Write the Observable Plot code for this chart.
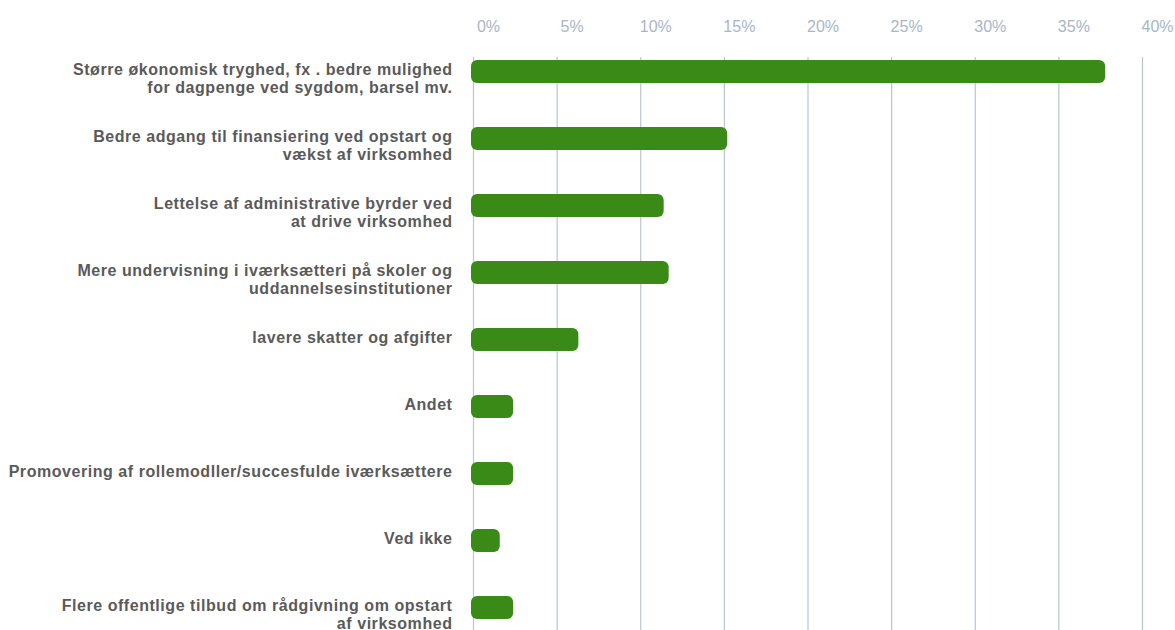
<!DOCTYPE html>
<html>
<head>
<meta charset="utf-8">
<script src="https://cdn.jsdelivr.net/npm/d3@7"></script>
<script src="https://cdn.jsdelivr.net/npm/@observablehq/plot@0.6"></script>
<style>
  html, body { margin: 0; padding: 0; background: #fff; }
  #chart svg { display: block; }
  #chart svg g[aria-label="text"] text { letter-spacing: 0.55px; }
</style>
</head>
<body>
<div id="chart"></div>
<script>
const categories = [
  "Større økonomisk tryghed, fx . bedre mulighed\nfor dagpenge ved sygdom, barsel mv.",
  "Bedre adgang til finansiering ved opstart og\nvækst af virksomhed",
  "Lettelse af administrative byrder ved\nat drive virksomhed",
  "Mere undervisning i iværksætteri på skoler og\nuddannelsesinstitutioner",
  "lavere skatter og afgifter",
  "Andet",
  "Promovering af rollemodller/succesfulde iværksættere",
  "Ved ikke",
  "Flere offentlige tilbud om rådgivning om opstart\naf virksomhed"
];
const values = [37.8, 15.2, 11.4, 11.7, 6.3, 2.4, 2.4, 1.6, 2.4];
const xTicks = [0, 5, 10, 15, 20, 25, 30, 35, 40];

const data = categories.map((c, i) => ({category: c, value: values[i]}));

const chart = Plot.plot({
  width: 1175,
  height: 630,
  marginTop: 57,
  marginBottom: 0,
  marginLeft: 473,
  marginRight: 33,
  style: {fontFamily: "'Liberation Sans', Arial, sans-serif", background: "#fff"},
  x: {
    domain: [0, 40],
    axis: null
  },
  y: {
    domain: categories,
    axis: null,
    paddingInner: 0.655,
    paddingOuter: 0.1,
    align: 0.25
  },
  marks: [
    Plot.ruleX(xTicks, {stroke: "#b9c5d2", strokeWidth: 1.2}),
    Plot.axisX({anchor: "top", ticks: xTicks, tickFormat: d => d + "%", tickSize: 0, tickPadding: 26, dx: 15, fontSize: 16, fill: "#a9b6c6", label: null}),
    Plot.barX(data, {x1: 0, x2: "value", y: "category", fill: "#3a8a18", rx: 6, insetLeft: -2}),
    Plot.text(data, {
      x: 0, y: "category", text: "category",
      textAnchor: "end", lineAnchor: "top", dx: -21, dy: -10,
      lineHeight: 1.13, fontSize: 16, fontWeight: "bold", fill: "#5a5a5a"
    })
  ]
});
document.getElementById("chart").appendChild(chart);
</script>
</body>
</html>
